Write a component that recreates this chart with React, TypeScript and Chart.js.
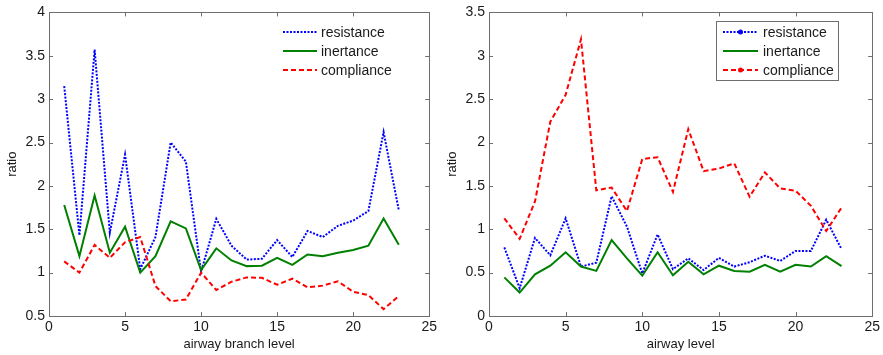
import React, { useEffect, useRef } from "react";
import { Chart, registerables } from "chart.js";

Chart.register(...registerables);

const levels = [1, 2, 3, 4, 5, 6, 7, 8, 9, 10, 11, 12, 13, 14, 15, 16, 17, 18, 19, 20, 21, 22, 23];

// Left chart: airway branch level
const branchResistance = [3.15, 1.43, 3.57, 1.46, 2.36, 1.04, 1.41, 2.5, 2.28, 1.01, 1.62, 1.31, 1.15, 1.16, 1.375, 1.18, 1.48, 1.41, 1.54, 1.6, 1.71, 2.62, 1.72];
const branchInertance = [1.78, 1.19, 1.89, 1.23, 1.53, 1.0, 1.19, 1.59, 1.51, 1.03, 1.28, 1.14, 1.075, 1.08, 1.17, 1.09, 1.21, 1.19, 1.23, 1.26, 1.31, 1.625, 1.32];
const branchCompliance = [1.13, 1.0, 1.32, 1.17, 1.35, 1.41, 0.845, 0.67, 0.69, 1.0, 0.8, 0.895, 0.945, 0.94, 0.86, 0.93, 0.83, 0.85, 0.9, 0.78, 0.74, 0.58, 0.73];

// Right chart: airway level
const levelResistance = [0.79, 0.32, 0.9, 0.7, 1.125, 0.57, 0.615, 1.38, 1.03, 0.49, 0.94, 0.54, 0.665, 0.53, 0.67, 0.57, 0.62, 0.695, 0.635, 0.75, 0.75, 1.11, 0.77];
const levelInertance = [0.445, 0.27, 0.48, 0.58, 0.735, 0.57, 0.52, 0.875, 0.665, 0.465, 0.735, 0.47, 0.625, 0.48, 0.58, 0.52, 0.51, 0.59, 0.51, 0.59, 0.57, 0.69, 0.575];
const levelCompliance = [1.125, 0.89, 1.32, 2.24, 2.55, 3.19, 1.45, 1.48, 1.21, 1.81, 1.83, 1.43, 2.155, 1.67, 1.7, 1.76, 1.375, 1.655, 1.47, 1.445, 1.27, 0.98, 1.25];

const seriesNames = ["resistance", "inertance", "compliance"];
const seriesColors = ["#0000ff", "#008000", "#ff0000"];
const seriesDashes = [[2, 1.5], [], [5, 3]];

const FONT = "'Liberation Sans', Arial, Helvetica, sans-serif";
const AXIS_COLOR = "#6e6e6e";
const TEXT_COLOR = "#1a1a1a";

type Props = {
  width: number;
  xTitle: string;
  yMin: number;
  yMax: number;
  data: number[][];
  boxedLegend: boolean;
};

function makeFramePlugin(boxed: boolean) {
  return {
    id: "frameAndLegend",
    afterDatasetsDraw(chart: any) {
      const { ctx, chartArea: a, scales } = chart;
      ctx.save();
      ctx.strokeStyle = AXIS_COLOR;
      ctx.lineWidth = 1;
      ctx.setLineDash([]);
      ctx.strokeRect(Math.round(a.left) + 0.5, Math.round(a.top) + 0.5, Math.round(a.right - a.left), Math.round(a.bottom - a.top));
      const tl = 4;
      ctx.beginPath();
      scales.x.ticks.forEach((t: any) => {
        const px = Math.round(scales.x.getPixelForValue(t.value)) + 0.5;
        ctx.moveTo(px, a.bottom);
        ctx.lineTo(px, a.bottom - tl);
        ctx.moveTo(px, a.top);
        ctx.lineTo(px, a.top + tl);
      });
      scales.y.ticks.forEach((t: any) => {
        const py = Math.round(scales.y.getPixelForValue(t.value)) + 0.5;
        ctx.moveTo(a.left, py);
        ctx.lineTo(a.left + tl, py);
        ctx.moveTo(a.right, py);
        ctx.lineTo(a.right - tl, py);
      });
      ctx.stroke();

      if (boxed) {
        ctx.fillStyle = "#ffffff";
        ctx.fillRect(276, 21, 122, 59);
        ctx.strokeStyle = AXIS_COLOR;
        ctx.strokeRect(276.5, 21.5, 122, 59);
      }
      const x0 = 283;
      const x1 = boxed ? 318 : 317;
      const tx = boxed ? 323 : 321;
      const rows = [32, 51, 70];
      ctx.font = `14px ${FONT}`;
      ctx.textBaseline = "middle";
      ctx.textAlign = "left";
      rows.forEach((y, i) => {
        ctx.strokeStyle = seriesColors[i];
        ctx.lineWidth = 2;
        ctx.setLineDash(seriesDashes[i]);
        ctx.beginPath();
        ctx.moveTo(x0, y);
        ctx.lineTo(x1, y);
        ctx.stroke();
        ctx.setLineDash([]);
        if (boxed && i !== 1) {
          ctx.fillStyle = seriesColors[i];
          ctx.beginPath();
          ctx.arc((x0 + x1) / 2, y, 2.5, 0, Math.PI * 2);
          ctx.fill();
        }
        ctx.fillStyle = TEXT_COLOR;
        ctx.fillText(seriesNames[i], tx, y + 1);
      });
      ctx.restore();
    },
  };
}

function RatioChart({ width, xTitle, yMin, yMax, data, boxedLegend }: Props) {
  const ref = useRef<HTMLCanvasElement | null>(null);
  useEffect(() => {
    if (!ref.current) return;
    const chart = new Chart(ref.current, {
      type: "line",
      data: {
        datasets: data.map((vals, i) => ({
          label: seriesNames[i],
          data: levels.map((x, j) => ({ x, y: vals[j] })),
          borderColor: seriesColors[i],
          backgroundColor: seriesColors[i],
          borderWidth: 2,
          borderDash: seriesDashes[i],
          pointRadius: 0,
          tension: 0,
          fill: false,
          order: 3 - i,
        })),
      },
      options: {
        animation: false,
        responsive: false,
        devicePixelRatio: 1,
        layout: { padding: { left: 0, right: width - 433, top: 12, bottom: 0 } },
        plugins: { legend: { display: false }, tooltip: { enabled: false } },
        scales: {
          x: {
            type: "linear",
            min: 0,
            max: 25,
            grid: { display: false, drawTicks: false },
            border: { display: false },
            ticks: { stepSize: 5, color: TEXT_COLOR, font: { family: FONT, size: 14 }, padding: 3, maxRotation: 0, callback: (v: any) => String(v) },
            title: { display: true, text: xTitle, color: TEXT_COLOR, font: { family: FONT, size: 13 }, padding: { top: 0, bottom: 3 } },
            afterFit: (s: any) => {
              s.height = 39;
            },
          },
          y: {
            type: "linear",
            min: yMin,
            max: yMax,
            grid: { display: false, drawTicks: false },
            border: { display: false },
            ticks: { stepSize: 0.5, color: TEXT_COLOR, font: { family: FONT, size: 14 }, padding: 4, callback: (v: any) => String(Math.round(v * 10) / 10) },
            title: { display: true, text: "ratio", color: TEXT_COLOR, font: { family: FONT, size: 13 }, padding: { top: 5, bottom: 0 } },
            afterFit: (s: any) => {
              s.width = 49;
            },
          },
        },
      },
      plugins: [makeFramePlugin(boxedLegend)],
    } as any);
    return () => chart.destroy();
  }, []);
  return <canvas ref={ref} width={width} height={355} style={{ display: "block", width, height: 355 }} />;
}

export default function App() {
  return (
    <div style={{ position: "absolute", left: 0, top: 0, width: 883, height: 355, background: "#ffffff", display: "flex" }}>
      <RatioChart
        width={440}
        xTitle="airway branch level"
        yMin={0.5}
        yMax={4}
        data={[branchResistance, branchInertance, branchCompliance]}
        boxedLegend={false}
      />
      <RatioChart
        width={443}
        xTitle="airway level"
        yMin={0}
        yMax={3.5}
        data={[levelResistance, levelInertance, levelCompliance]}
        boxedLegend={true}
      />
    </div>
  );
}
